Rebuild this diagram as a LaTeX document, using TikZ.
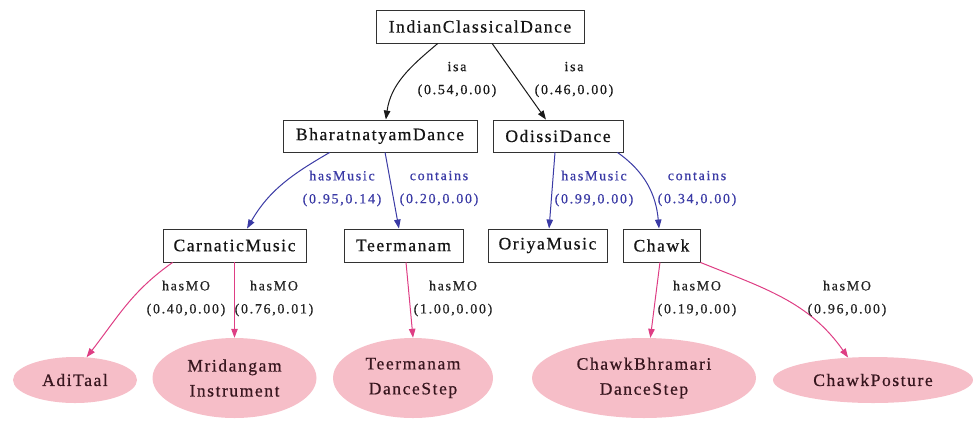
\documentclass[tikz,border=0pt]{standalone}
\usepackage{fontspec}
\setmainfont{Liberation Serif}
\newfontfamily\boxfont[LetterSpace=9,FakeBold=0.6]{Liberation Serif}
\newfontfamily\lblfont[LetterSpace=12,FakeBold=0.6]{Liberation Serif}
\usetikzlibrary{arrows.meta,shapes.geometric,calc}

\definecolor{boxline}{RGB}{50,50,50}
\definecolor{boxtext}{RGB}{20,20,20}
\definecolor{ovalfill}{RGB}{246,190,200}
\definecolor{ovaltext}{RGB}{55,22,30}
\definecolor{isacol}{RGB}{25,25,25}
\definecolor{musiccol}{RGB}{58,58,165}
\definecolor{mocol}{RGB}{222,62,132}
\definecolor{motext}{RGB}{35,35,35}

\tikzset{
  classbox/.style={draw=boxline, line width=0.9pt, fill=white, rectangle,
    inner sep=0pt, text=boxtext, font=\boxfont\fontsize{17.5}{21}\selectfont},
  instoval/.style={ellipse, fill=ovalfill, draw=none, inner sep=0pt,
    align=center, text=ovaltext, font=\boxfont\fontsize{17.5}{25}\selectfont},
  tip/.style={-{Triangle[length=9pt,width=6.5pt]}},
  isaedge/.style={tip, draw=isacol, line width=1pt},
  musicedge/.style={tip, draw=musiccol, line width=1pt},
  moedge/.style={tip, draw=mocol, line width=1pt},
  elabel/.style={align=center, inner sep=0pt,
    font=\lblfont\fontsize{14}{23}\selectfont},
  isalabel/.style={elabel, text=isacol},
  musiclabel/.style={elabel, text=musiccol},
  molabel/.style={elabel, text=motext},
}

\begin{document}
\begin{tikzpicture}[x=1pt,y=1pt]
\useasboundingbox (0,0) rectangle (973,-421);

% class boxes
\node[classbox, minimum width=208, minimum height=33] (icd)  at (480,-26.5)   {IndianClassicalDance};
\node[classbox, minimum width=194, minimum height=32] (bhar) at (380,-136)    {BharatnatyamDance};
\node[classbox, minimum width=130, minimum height=32] (odis) at (558,-136)    {OdissiDance};
\node[classbox, minimum width=143, minimum height=33] (carn) at (234.5,-245.5){CarnaticMusic};
\node[classbox, minimum width=119, minimum height=33] (teer) at (403.5,-245.5){Teermanam};
\node[classbox, minimum width=119, minimum height=33] (oriy) at (547.5,-245.5){OriyaMusic};
\node[classbox, minimum width=77,  minimum height=33] (chwk) at (661.5,-245.5){Chawk};

% instance ovals
\node[instoval, minimum width=124, minimum height=46] (adi)  at (75,-380)   {AdiTaal};
\node[instoval, minimum width=164, minimum height=80] (mrid) at (234.5,-378){Mridangam\\Instrument};
\node[instoval, minimum width=160, minimum height=80] (tds)  at (413,-378)  {Teermanam\\DanceStep};
\node[instoval, minimum width=224, minimum height=80] (cbds) at (644,-378)  {ChawkBhramari\\DanceStep};
\node[instoval, minimum width=200, minimum height=46] (cpos) at (873,-380)  {ChawkPosture};

% isa edges
\draw[isaedge] ($(icd.south west)!0.298!(icd.south east)$) to[out=-140,in=82]
  ($(bhar.north west)!0.53!(bhar.north east)$);
\draw[isaedge] ($(icd.south west)!0.558!(icd.south east)$) --
  ($(odis.north west)!0.408!(odis.north east)$);

% hasMusic / contains edges
\draw[musicedge] ($(bhar.south west)!0.242!(bhar.south east)$) to[out=-150,in=60]
  ($(carn.north west)!0.587!(carn.north east)$);
\draw[musicedge] ($(bhar.south west)!0.526!(bhar.south east)$) --
  ($(teer.north west)!0.462!(teer.north east)$);
\draw[musicedge] ($(odis.south west)!0.477!(odis.south east)$) --
  ($(oriy.north west)!0.513!(oriy.north east)$);
\draw[musicedge] ($(odis.south west)!0.954!(odis.south east)$) to[out=-35,in=95]
  ($(chwk.north west)!0.468!(chwk.north east)$);

% hasMO edges
\draw[moedge] ($(carn.south west)!0.07!(carn.south east)$) to[out=-145,in=52] (adi.63);
\draw[moedge] (carn.south) -- (mrid.north);
\draw[moedge] ($(teer.south west)!0.521!(teer.south east)$) -- (tds.north);
\draw[moedge] ($(chwk.south west)!0.48!(chwk.south east)$) -- (cbds.81);
\draw[moedge] (chwk.south east) to[out=-22,in=125] (cpos.138);

% edge labels
\node[isalabel]   (l1)  at (457,-79.5)  {isa\\(0.54,0.00)};
\node[isalabel]   (l2)  at (574,-79.5)  {isa\\(0.46,0.00)};
\node[musiclabel] (l3)  at (342,-188.5) {hasMusic\\(0.95,0.14)};
\node[musiclabel] (l4)  at (439,-188.5) {contains\\(0.20,0.00)};
\node[musiclabel] (l5)  at (594,-188.5) {hasMusic\\(0.99,0.00)};
\node[musiclabel] (l6)  at (697,-188.5) {contains\\(0.34,0.00)};
\node[molabel]    (l7)  at (186,-298.5) {hasMO\\(0.40,0.00)};
\node[molabel]    (l8)  at (274,-298.5) {hasMO\\(0.76,0.01)};
\node[molabel]    (l9)  at (453,-298.5) {hasMO\\(1.00,0.00)};
\node[molabel]    (l10) at (697,-298.5) {hasMO\\(0.19,0.00)};
\node[molabel]    (l11) at (847,-298.5) {hasMO\\(0.96,0.00)};
\end{tikzpicture}
\end{document}
